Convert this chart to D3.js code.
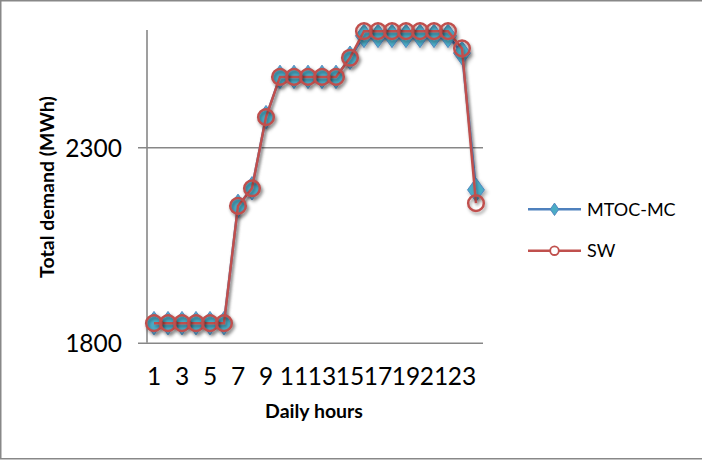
<!DOCTYPE html>
<html>
<head>
<meta charset="utf-8">
<script src="https://cdn.jsdelivr.net/npm/d3@7"></script>
<style>
  html, body { margin: 0; padding: 0; background: #fff; }
  svg { display: block; }
  text { font-family: Lato, "Open Sans", sans-serif; fill: #000; }
</style>
</head>
<body>
<svg id="chart" width="702" height="460"></svg>
<script>
const hours = [1,2,3,4,5,6,7,8,9,10,11,12,13,14,15,16,17,18,19,20,21,22,23,24];
const tickLabels = ["1","3","5","7","9","11","13","15","17","19","21","23"];
const yTicks = [1800, 2300];
const mtocValues = [1850,1850,1850,1850,1850,1850,2150,2195,2377,2480,2480,2480,2480,2480,2529,2585,2585,2585,2585,2585,2585,2585,2541,2191];
const swValues   = [1850,1850,1850,1850,1850,1850,2150,2195,2377,2480,2480,2480,2480,2480,2529,2597,2597,2597,2597,2597,2597,2597,2553,2157];
const seriesNames = ["MTOC-MC", "SW"];

(function () {
const svg = d3.select("#chart");
const W = 702, H = 460;
const pLeft = 147, pRight = 483, pTop = 30, pBottom = 342.7;

const x = d3.scaleBand().domain(hours).range([pLeft, pRight]);
const y = d3.scaleLinear().domain([1800, 2600]).range([pBottom, pTop]);
const cx = d => x(d) + x.bandwidth() / 2;

// drop shadow filter
const defs = svg.append("defs");
const f = defs.append("filter").attr("id", "shadow").attr("x", "-50%").attr("y", "-50%").attr("width", "200%").attr("height", "200%");
f.append("feDropShadow").attr("dx", 1.5).attr("dy", 2.5).attr("stdDeviation", 1.6).attr("flood-color", "#000").attr("flood-opacity", 0.35);

// border
svg.append("rect").attr("x", 0.75).attr("y", 0.75).attr("width", W + 2).attr("height", 458)
  .attr("fill", "none").attr("stroke", "#888").attr("stroke-width", 1.5);

// gridlines / y axis
const yAxis = d3.axisLeft(y).tickValues(yTicks).tickSize(-(pRight - pLeft)).tickPadding(25).tickFormat(d3.format("d"));
const gy = svg.append("g").attr("transform", `translate(${pLeft},0)`).call(yAxis);
gy.select(".domain").remove();
gy.selectAll(".tick line").attr("x1", -9).attr("stroke", "#878787").attr("stroke-width", 1.6);
gy.selectAll(".tick text").style("font-size", "24.5px").style("font-family", "Lato, sans-serif").attr("dy", "0.36em");

// y axis line
svg.append("line").attr("x1", pLeft).attr("x2", pLeft).attr("y1", pTop).attr("y2", pBottom)
  .attr("stroke", "#878787").attr("stroke-width", 1.6);

// x axis labels
const xAxis = d3.axisBottom(x).tickValues(hours.filter(h => tickLabels.includes(String(h)))).tickSize(0).tickPadding(42);
const gx = svg.append("g").attr("transform", `translate(0,${pBottom})`).call(xAxis);
gx.select(".domain").remove();
gx.selectAll(".tick text").style("font-size", "24.5px").style("font-family", "Lato, sans-serif").attr("dy", "0");

// axis titles
svg.append("text").attr("x", 314).attr("y", 418).attr("text-anchor", "middle")
  .style("font-weight", "bold").style("font-size", "19.5px").text("Daily hours");
svg.append("text").attr("transform", "translate(54,187) rotate(-90)").attr("text-anchor", "middle")
  .style("font-weight", "bold").style("font-size", "19.5px").text("Total demand (MWh)");

const blue = "#4F81BD", lightBlue = "#4BACC6", red = "#C0504D";
const line = d3.line().x((d, i) => cx(hours[i])).y(d => y(d));

// MTOC series
svg.append("path").datum(mtocValues).attr("d", line).attr("fill", "none")
  .attr("stroke", blue).attr("stroke-width", 2.5).attr("filter", "url(#shadow)");
const diamond = d3.symbol().type(d3.symbolDiamond).size(160);
svg.append("g").selectAll("path").data(mtocValues).join("path")
  .attr("d", diamond)
  .attr("transform", (d, i) => `translate(${cx(hours[i])},${y(d)}) scale(1.25,1)`)
  .attr("fill", lightBlue).attr("stroke", blue).attr("stroke-width", 0.8)
  .attr("filter", "url(#shadow)");

// SW series
svg.append("path").datum(swValues).attr("d", line).attr("fill", "none")
  .attr("stroke", red).attr("stroke-width", 2.5).attr("filter", "url(#shadow)");
svg.append("g").selectAll("circle").data(swValues).join("circle")
  .attr("cx", (d, i) => cx(hours[i])).attr("cy", d => y(d)).attr("r", 7.8)
  .attr("fill", "none").attr("stroke", red).attr("stroke-width", 2.5)
  .attr("filter", "url(#shadow)");

// legend
const legY = [209.3, 250.7];
const lg = svg.append("g");
lg.selectAll("line").data(seriesNames).join("line")
  .attr("x1", 528).attr("x2", 581).attr("y1", (d, i) => legY[i]).attr("y2", (d, i) => legY[i])
  .attr("stroke", (d, i) => i === 0 ? blue : red).attr("stroke-width", 2.5);
lg.append("path").attr("d", d3.symbol().type(d3.symbolDiamond).size(45)())
  .attr("transform", `translate(554.5,${legY[0]}) scale(1.2,1)`)
  .attr("fill", lightBlue).attr("stroke", blue).attr("stroke-width", 0.8);
lg.append("circle").attr("cx", 554.5).attr("cy", legY[1]).attr("r", 4.3)
  .attr("fill", "#fff").attr("stroke", red).attr("stroke-width", 1.8);
lg.selectAll("text").data(seriesNames).join("text")
  .attr("x", 587).attr("y", (d, i) => legY[i]).attr("dy", "0.36em")
  .style("font-size", "18px").text(d => d);
})();
</script>
</body>
</html>
